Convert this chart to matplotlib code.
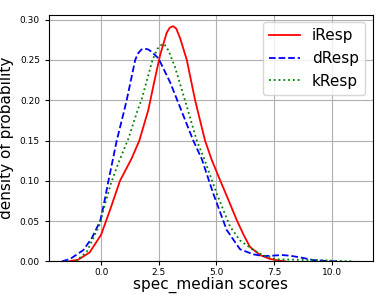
import matplotlib
matplotlib.use('Agg')
import matplotlib.pyplot as plt

# curve samples (score, density)
iresp_x = [-1.4, -1.0, -0.5, 0.0, 0.39, 0.82, 1.33, 1.66, 2.05, 2.3, 2.56, 2.85, 2.98, 3.12, 3.26, 3.43,
           3.72, 4.08, 4.51, 4.80, 5.16, 5.5, 5.89, 6.2, 6.46, 6.9, 7.33, 7.7, 8.0]
iresp_y = [0.0, 0.002, 0.011, 0.033, 0.064, 0.100, 0.128, 0.150, 0.188, 0.222, 0.256, 0.284, 0.290, 0.292, 0.289, 0.277,
           0.250, 0.200, 0.150, 0.126, 0.101, 0.078, 0.051, 0.032, 0.018, 0.0078, 0.003, 0.001, 0.0]

dresp_x = [-1.7, -1.34, -0.77, -0.4, -0.04, 0.10, 0.32, 0.68, 1.01, 1.11, 1.48, 1.60, 1.75, 1.91, 2.05, 2.2, 2.49,
           3.0, 3.5, 4.0, 4.37, 4.87, 5.45, 6.03, 6.61, 7.04, 7.4, 7.84, 8.2, 8.63, 9.21, 9.8, 10.2]
dresp_y = [0.0, 0.003, 0.014, 0.029, 0.050, 0.068, 0.100, 0.150, 0.188, 0.200, 0.250, 0.258, 0.263, 0.264, 0.263, 0.260, 0.252,
           0.222, 0.186, 0.150, 0.127, 0.084, 0.039, 0.015, 0.0087, 0.0066, 0.007, 0.0079, 0.007, 0.005, 0.0016, 0.0005, 0.0]

kresp_x = [-1.1, -0.62, -0.04, 0.10, 0.43, 0.75, 1.18, 1.59, 1.76, 2.0, 2.23, 2.45, 2.58, 2.70, 2.82, 2.95, 3.21,
           3.64, 4.15, 4.44, 5.02, 5.60, 6.03, 6.61, 7.04, 7.62, 8.5, 9.5, 10.3, 11.0]
kresp_y = [0.0, 0.012, 0.047, 0.064, 0.097, 0.122, 0.152, 0.188, 0.201, 0.226, 0.250, 0.264, 0.268, 0.270, 0.267, 0.260, 0.241,
           0.200, 0.150, 0.130, 0.084, 0.043, 0.026, 0.014, 0.0075, 0.0025, 0.002, 0.0015, 0.0005, 0.0]

x_ticks = [0.0, 2.5, 5.0, 7.5, 10.0]
y_ticks = [0.00, 0.05, 0.10, 0.15, 0.20, 0.25, 0.30]

fig = plt.figure(figsize=(3.92, 2.94), dpi=100)
ax = fig.add_axes([0.125, 0.111, 0.826, 0.839])

ax.plot(iresp_x, iresp_y, color='red', linestyle='-', lw=1.3, label='iResp', solid_joinstyle='round')
ax.plot(dresp_x, dresp_y, color='blue', linestyle='--', lw=1.3, label='dResp', dash_joinstyle='round')
ax.plot(kresp_x, kresp_y, color='green', linestyle=':', lw=1.3, label='kResp', dash_joinstyle='round')

ax.set_xlim(-2.26, 11.79)
ax.set_ylim(0, 0.3062)
ax.set_xticks(x_ticks)
ax.set_xticklabels([f'{t:.1f}' for t in x_ticks])
ax.set_yticks(y_ticks)
ax.set_yticklabels([f'{t:.2f}' for t in y_ticks])
ax.tick_params(labelsize=6.5, length=3)
ax.tick_params(axis='x', pad=2)
ax.grid(True, color='#b0b0b0', lw=0.8)
ax.set_axisbelow(True)

ax.set_xlabel('spec_median scores', fontsize=11)
ax.xaxis.set_label_coords(0.5, -0.064)
ax.set_ylabel('density of probability', fontsize=11)
ax.legend(loc='upper right', fontsize=11)

fig.savefig('out.png', dpi=100)
